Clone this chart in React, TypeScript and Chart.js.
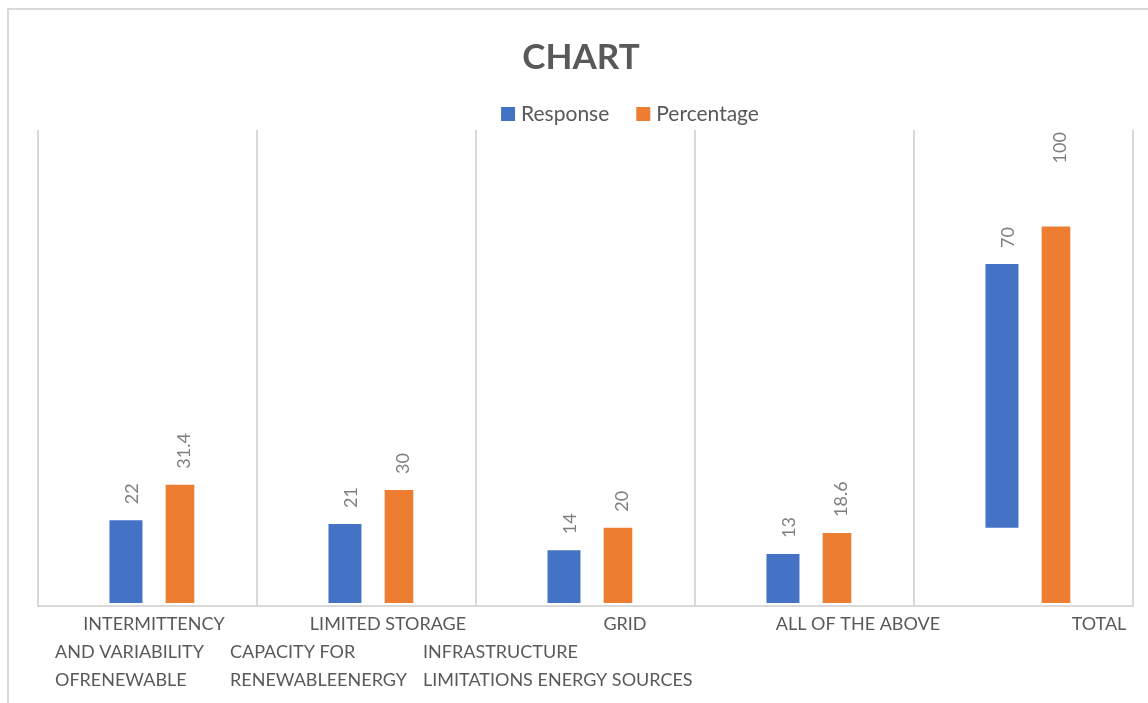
import React, { useEffect, useRef } from "react";
import { Chart, registerables } from "chart.js";

Chart.register(...registerables);

// ---- data ----
const chartTitle = "CHART";
const seriesNames = ["Response", "Percentage"];
const categoryLines: string[][] = [
  ["INTERMITTENCY", "AND VARIABILITY", "OFRENEWABLE"],
  ["LIMITED STORAGE", "CAPACITY FOR", "RENEWABLEENERGY"],
  ["GRID", "INFRASTRUCTURE", "LIMITATIONS ENERGY SOURCES"],
  ["ALL OF THE ABOVE"],
  ["TOTAL"],
];
const responses = [22, 21, 14, 13, 70];
const responseStarts = [0, 0, 0, 0, 20];
const percentages = [31.4, 30, 20, 18.6, 100];

// ---- styles ----
const BLUE = "#4472C4";
const ORANGE = "#ED7D31";
const TEXT = "#595959";
const GRID = "#D9D9D9";
const LABEL = "#7F7F7F";
const FONT = "Lato, 'Open Sans', sans-serif";

const layoutCfg = {
  titleX: 581,
  titleBaseline: 69,
  legendCenterX: 630,
  legendTop: 107,
  firstLineShift: [1, 16, 34, 48, 70],
  contLeft: [-98, -142, -168, 0, 0],
  lineOffsets: [24, 52, 80],
  labelGap: 16,
  extraGap: { "1:4": 47 } as Record<string, number>,
};

const decorPlugin = {
  id: "excelDecor",
  beforeDraw(chart: any) {
    const { ctx, width, height } = chart;
    ctx.save();
    ctx.fillStyle = "#ffffff";
    ctx.fillRect(0, 0, width, height);
    ctx.fillStyle = GRID;
    ctx.fillRect(7, 8, width - 7, 2);
    ctx.fillRect(7, 8, 2, height - 8);
    ctx.restore();
  },
  afterDatasetsDraw(chart: any) {
    const { ctx } = chart;
    const valueSets = [responses, percentages];
    ctx.save();
    ctx.font = `18px ${FONT}`;
    ctx.fillStyle = LABEL;
    ctx.textAlign = "left";
    ctx.textBaseline = "alphabetic";
    chart.data.datasets.forEach((_: any, di: number) => {
      const meta = chart.getDatasetMeta(di);
      meta.data.forEach((el: any, i: number) => {
        const text = String(valueSets[di][i]);
        const gap = layoutCfg.labelGap + (layoutCfg.extraGap[`${di}:${i}`] || 0);
        ctx.save();
        ctx.translate(el.x + el.width / 2 - 4.5, el.y - gap);
        ctx.rotate(-Math.PI / 2);
        ctx.fillText(text, 0, 0);
        ctx.restore();
      });
    });
    ctx.restore();
  },
  afterDraw(chart: any) {
    const { ctx, chartArea } = chart;
    ctx.save();
    // title
    ctx.fillStyle = TEXT;
    ctx.font = `bold 35px ${FONT}`;
    ctx.textAlign = "center";
    ctx.textBaseline = "alphabetic";
    ctx.fillText(chartTitle, layoutCfg.titleX, layoutCfg.titleBaseline);

    // legend
    ctx.font = `21px ${FONT}`;
    const box = 14;
    const boxGap = 6;
    const itemGap = 27;
    const widths = seriesNames.map((n) => ctx.measureText(n).width);
    const total = widths.reduce((a, w) => a + box + boxGap + w, 0) + itemGap * (seriesNames.length - 1);
    let x = layoutCfg.legendCenterX - total / 2;
    ctx.textAlign = "left";
    seriesNames.forEach((n, i) => {
      ctx.fillStyle = chart.data.datasets[i].backgroundColor;
      ctx.fillRect(x, layoutCfg.legendTop, box, box);
      x += box + boxGap;
      ctx.fillStyle = TEXT;
      ctx.fillText(n, x, layoutCfg.legendTop + 14);
      x += widths[i] + itemGap;
    });

    // category labels
    const xs = chart.scales.x;
    ctx.font = `18px ${FONT}`;
    ctx.fillStyle = TEXT;
    categoryLines.forEach((lines, i) => {
      const px = xs.getPixelForValue(i);
      lines.forEach((line, k) => {
        const y = chartArea.bottom + layoutCfg.lineOffsets[k];
        if (k === 0) {
          ctx.textAlign = "center";
          ctx.fillText(line, px + layoutCfg.firstLineShift[i], y);
        } else {
          ctx.textAlign = "left";
          ctx.fillText(line, px + layoutCfg.contLeft[i], y);
        }
      });
    });
    ctx.restore();
  },
};

export default function App() {
  const ref = useRef<HTMLCanvasElement>(null);
  useEffect(() => {
    if (!ref.current) return;
    const chart = new Chart(ref.current, {
      type: "bar",
      data: {
        datasets: [
          {
            label: seriesNames[0],
            data: responses.map((v, i) => ({ x: i, y: [responseStarts[i], responseStarts[i] + v] })) as any,
            backgroundColor: BLUE,
            categoryPercentage: 0.4932,
            barPercentage: 0.611,
          },
          {
            label: seriesNames[1],
            data: percentages.map((v, i) => ({ x: i, y: v })) as any,
            backgroundColor: ORANGE,
            categoryPercentage: 0.4932,
            barPercentage: 0.53,
          },
        ],
      },
      options: {
        responsive: false,
        animation: false,
        devicePixelRatio: 1,
        layout: { padding: { left: 38, right: 15, top: 130, bottom: 97 } },
        plugins: {
          legend: { display: false },
          title: { display: false },
          tooltip: { enabled: false },
        },
        scales: {
          x: {
            type: "linear",
            offset: false,
            min: -0.525,
            max: 4.475,
            afterBuildTicks: (s: any) => {
              const t = categoryLines.map((_, k) => ({ value: s.min + k }));
              t.push({ value: s.max });
              s.ticks = t;
            },
            grid: { color: GRID, lineWidth: 2, drawTicks: false, offset: false },
            border: { color: GRID, width: 2 },
            ticks: { display: false },
          },
          y: {
            display: false,
            min: -0.8,
            max: 125.6,
          },
        },
      },
      plugins: [decorPlugin],
    });
    return () => chart.destroy();
  }, []);
  return (
    <div style={{ position: "fixed", left: 0, top: 0, width: 1148, height: 703, background: "#fff" }}>
      <canvas ref={ref} width={1148} height={703} style={{ display: "block" }} />
    </div>
  );
}
